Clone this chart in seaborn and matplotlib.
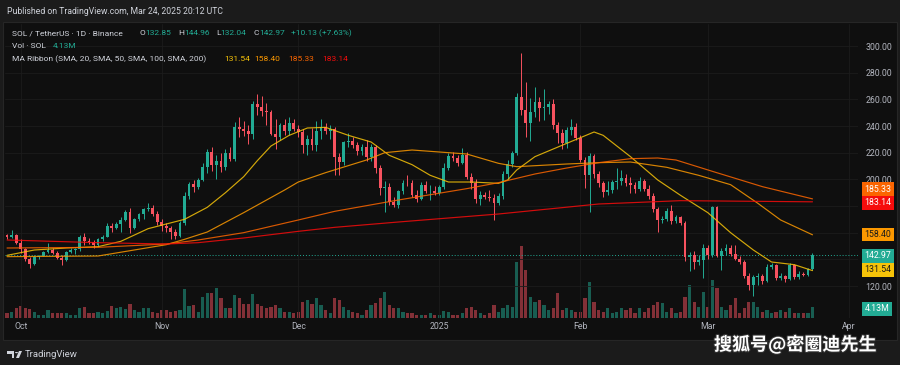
import pandas as pd
import seaborn as sns
import matplotlib.pyplot as plt
import matplotlib.transforms as mtransforms
import matplotlib.patheffects as pe
from matplotlib.patches import Rectangle, Polygon, Circle

# ---- data (SOL/USDT daily, Binance) ----
start = "2024-09-28"

opens = [
    158.0, 156.5, 158.2, 152.5, 147.5, 140.0, 136.5, 141.8, 142.8, 145.2,
    147.2, 145.0, 141.0, 139.5, 145.8, 147.0, 147.5, 156.5, 154.0, 153.2,
    150.5, 155.2, 157.0, 165.0, 163.5, 166.2, 169.8, 175.8, 163.2, 170.2,
    173.8, 177.5, 178.5, 174.0, 168.0, 165.0, 163.5, 160.5, 157.2, 167.0,
    187.5, 196.5, 194.0, 199.2, 209.5, 220.5, 211.0, 213.5, 209.0, 219.5,
    215.5, 239.5, 237.5, 236.0, 234.0, 256.5, 254.0, 251.0, 250.5, 234.0,
    232.0, 240.5, 236.5, 242.0, 238.0, 235.5, 225.5, 230.5, 226.0, 236.5,
    239.0, 236.0, 238.0, 216.5, 213.0, 228.0, 229.0, 225.5, 221.0, 224.5,
    217.0, 224.0, 208.5, 193.5, 194.5, 183.0, 181.0, 191.0, 197.5, 197.0,
    188.0, 185.5, 196.0, 191.0, 191.5, 189.5, 194.5, 208.5, 217.5, 216.0,
    212.5, 218.5, 202.0, 197.5, 185.0, 188.0, 187.0, 186.0, 182.0, 187.5,
    204.0, 211.5, 219.5, 262.0, 252.0, 242.0, 250.5, 258.0, 253.5, 254.0,
    256.5, 240.5, 234.5, 227.5, 237.0, 239.5, 231.0, 214.5, 203.0, 217.5,
    204.0, 197.5, 190.5, 192.0, 198.0, 199.0, 201.0, 197.5, 195.5, 193.0,
    198.5, 193.0, 187.5, 177.5, 169.5, 170.0, 176.5, 168.5, 171.5, 167.0,
    141.5, 143.5, 138.0, 139.5, 148.5, 143.5, 179.0, 142.5, 146.5, 148.5,
    144.0, 140.5, 138.0, 127.5, 120.5, 126.5, 127.5, 124.0, 134.5, 135.5,
    126.0, 127.5, 125.5, 135.5, 126.5, 129.0, 128.5, 132.85,
]
highs = [
    159.0, 162.0, 159.0, 155.0, 148.5, 141.8, 143.0, 143.5, 146.0, 152.5,
    148.5, 146.5, 143.5, 146.5, 148.5, 148.2, 158.0, 159.5, 156.0, 154.5,
    156.0, 158.5, 167.0, 167.5, 167.8, 171.5, 177.0, 178.5, 171.0, 174.5,
    178.5, 182.0, 180.5, 176.5, 170.5, 167.5, 165.0, 163.0, 168.5, 190.5,
    198.0, 199.5, 201.0, 212.5, 223.0, 224.0, 218.0, 220.0, 222.5, 224.0,
    243.0, 247.0, 244.0, 241.0, 259.0, 264.0, 262.5, 257.0, 252.0, 245.0,
    242.5, 245.0, 246.5, 245.5, 241.0, 237.5, 233.5, 238.5, 244.0, 245.0,
    242.5, 240.5, 239.5, 220.0, 229.0, 234.5, 232.0, 228.0, 226.5, 229.5,
    226.5, 226.0, 210.5, 199.0, 197.5, 187.0, 192.0, 199.5, 203.0, 199.5,
    192.0, 198.0, 198.5, 195.5, 195.0, 195.5, 212.0, 219.5, 220.5, 218.0,
    223.5, 220.5, 204.5, 200.0, 191.5, 190.5, 192.0, 189.0, 190.0, 206.0,
    214.5, 221.5, 265.0, 295.0, 273.0, 261.0, 269.5, 262.0, 268.0, 258.5,
    260.5, 243.0, 237.5, 239.0, 245.0, 242.5, 233.0, 216.5, 219.5, 219.0,
    206.5, 199.0, 199.0, 199.5, 208.5, 207.0, 204.0, 201.5, 198.0, 201.5,
    200.0, 195.5, 189.5, 179.5, 172.5, 178.5, 181.0, 173.0, 172.5, 168.5,
    145.5, 146.5, 143.0, 151.5, 150.5, 180.0, 180.0, 148.5, 151.5, 150.5,
    151.0, 142.5, 139.5, 130.0, 128.5, 129.5, 129.0, 136.5, 137.0, 136.5,
    130.0, 128.5, 137.0, 136.5, 131.0, 130.5, 133.5, 144.96,
]
lows = [
    155.5, 155.8, 151.5, 145.0, 139.0, 133.5, 136.0, 140.5, 142.2, 144.5,
    143.8, 140.2, 135.8, 138.5, 144.8, 144.0, 146.0, 150.5, 151.8, 148.8,
    149.8, 154.0, 156.5, 160.2, 162.5, 160.5, 168.8, 160.0, 162.5, 168.5,
    170.2, 176.0, 172.2, 166.0, 161.5, 160.8, 155.0, 155.5, 156.5, 166.0,
    185.5, 190.5, 193.0, 198.5, 205.0, 206.0, 200.5, 205.5, 207.0, 213.5,
    214.0, 232.0, 232.5, 226.5, 230.0, 248.5, 247.5, 240.5, 233.0, 222.5,
    229.5, 233.0, 233.5, 236.0, 231.5, 219.5, 218.0, 222.0, 221.5, 230.5,
    234.0, 230.5, 203.0, 203.5, 210.5, 224.0, 223.5, 218.5, 218.0, 214.0,
    213.5, 205.0, 188.5, 175.5, 180.5, 179.5, 178.5, 189.0, 195.0, 186.5,
    183.0, 184.5, 189.5, 184.5, 188.0, 188.5, 192.5, 207.0, 213.5, 210.0,
    211.5, 200.0, 192.5, 182.5, 180.5, 185.0, 184.0, 169.5, 180.5, 185.5,
    200.5, 209.5, 218.5, 248.0, 232.0, 229.0, 246.5, 244.0, 244.5, 249.0,
    238.0, 227.0, 223.0, 223.5, 233.5, 229.5, 213.0, 193.5, 175.5, 201.0,
    194.0, 187.0, 188.5, 190.0, 192.5, 195.5, 195.0, 190.0, 189.5, 191.0,
    191.5, 185.0, 175.5, 160.5, 167.0, 168.5, 166.5, 167.5, 165.5, 138.5,
    131.0, 132.5, 135.5, 126.0, 140.5, 142.0, 141.5, 132.0, 143.5, 142.5,
    139.5, 136.5, 126.0, 117.0, 112.5, 120.5, 121.5, 123.0, 132.5, 124.5,
    124.5, 123.0, 124.5, 125.0, 125.5, 127.5, 127.5, 132.04,
]
closes = [
    156.5, 158.2, 152.5, 147.5, 140.0, 136.5, 141.8, 142.8, 145.2, 147.2,
    145.0, 141.0, 139.5, 145.8, 147.0, 147.5, 156.5, 154.0, 153.2, 150.5,
    155.2, 157.0, 165.0, 163.5, 166.2, 169.8, 175.8, 163.2, 170.2, 173.8,
    177.5, 178.5, 174.0, 168.0, 165.0, 163.5, 160.5, 157.2, 167.0, 187.5,
    196.5, 194.0, 199.2, 209.5, 220.5, 211.0, 213.5, 209.0, 219.5, 215.5,
    239.5, 237.5, 236.0, 234.0, 256.5, 254.0, 251.0, 250.5, 234.0, 232.0,
    240.5, 236.5, 242.0, 238.0, 235.5, 225.5, 230.5, 226.0, 236.5, 239.0,
    236.0, 238.0, 216.5, 213.0, 228.0, 229.0, 225.5, 221.0, 224.5, 217.0,
    224.0, 208.5, 193.5, 194.5, 183.0, 181.0, 191.0, 197.5, 197.0, 188.0,
    185.5, 196.0, 191.0, 191.5, 189.5, 194.5, 208.5, 217.5, 216.0, 212.5,
    218.5, 202.0, 197.5, 185.0, 188.0, 187.0, 186.0, 182.0, 187.5, 204.0,
    211.5, 219.5, 262.0, 252.0, 242.0, 250.5, 258.0, 253.5, 254.0, 256.5,
    240.5, 234.5, 227.5, 237.0, 239.5, 231.0, 214.5, 203.0, 217.5, 204.0,
    197.5, 190.5, 192.0, 198.0, 199.0, 201.0, 197.5, 195.5, 193.0, 198.5,
    193.0, 187.5, 177.5, 169.5, 170.0, 176.5, 168.5, 171.5, 167.0, 141.5,
    143.5, 138.0, 139.5, 148.5, 143.5, 179.0, 142.5, 146.5, 148.5, 144.0,
    140.5, 138.0, 127.5, 120.5, 126.5, 127.5, 124.0, 134.5, 135.5, 126.0,
    127.5, 125.5, 135.5, 126.5, 129.0, 128.5, 132.85, 142.97,
]
# volume in millions of SOL
volumes = [
    1.8, 2.4, 3.6, 4.5, 3.6, 3.3, 2.4, 1.1, 1.1, 3.0,
    1.8, 1.8, 1.8, 1.8, 1.1, 1.1, 3.6, 4.0, 1.8, 1.8,
    2.4, 1.8, 2.8, 4.5, 3.6, 4.0, 3.3, 5.3, 3.0, 2.4,
    3.6, 3.6, 2.4, 2.0, 3.0, 3.0, 2.4, 2.8, 3.0, 10.8,
    4.5, 4.9, 2.4, 8.0, 9.3, 9.3, 11.1, 7.4, 3.6, 3.6,
    8.6, 7.4, 5.2, 5.2, 8.9, 5.2, 4.5, 3.6, 4.3, 4.9,
    3.6, 2.4, 2.4, 1.8, 2.4, 5.8, 6.8, 5.2, 7.4, 4.9,
    3.0, 1.8, 7.4, 6.8, 4.3, 3.0, 2.4, 1.8, 1.1, 3.0,
    4.9, 5.5, 7.4, 9.9, 4.9, 3.6, 3.6, 2.4, 1.8, 1.8,
    1.1, 1.1, 1.0, 1.8, 1.1, 1.1, 2.8, 2.4, 1.1, 1.1,
    1.8, 3.6, 4.3, 3.0, 1.8, 1.1, 1.8, 4.9, 2.4, 3.6,
    4.9, 4.3, 21.1, 26.8, 18.0, 8.0, 6.1, 6.8, 4.9, 3.0,
    3.6, 9.3, 3.0, 3.6, 3.0, 2.4, 2.4, 7.4, 13.6, 6.1,
    3.0, 2.4, 3.6, 1.8, 2.4, 3.6, 3.0, 3.6, 1.8, 3.6,
    2.4, 3.6, 4.9, 6.1, 5.5, 2.4, 3.6, 1.8, 2.4, 8.0,
    12.4, 6.1, 4.3, 9.9, 4.3, 14.3, 11.1, 4.3, 3.0, 4.9,
    7.4, 1.8, 3.6, 6.1, 6.1, 4.3, 2.4, 3.0, 1.8, 2.4,
    3.0, 2.4, 3.6, 1.8, 1.8, 1.8, 1.8, 4.13,
]

# moving average ribbon, read at points along each line
ma20_dates = ["2024-09-28", "2024-10-04", "2024-10-11", "2024-10-18", "2024-10-23",
              "2024-10-29", "2024-11-06", "2024-11-11", "2024-11-15", "2024-11-19",
              "2024-11-22", "2024-11-25", "2024-11-29", "2024-12-03", "2024-12-07",
              "2024-12-12", "2024-12-17", "2024-12-21", "2024-12-26", "2024-12-30",
              "2025-01-03", "2025-01-08", "2025-01-14", "2025-01-16", "2025-01-18",
              "2025-01-22", "2025-01-29", "2025-02-04", "2025-02-06", "2025-02-12",
              "2025-02-18", "2025-02-23", "2025-03-01", "2025-03-06", "2025-03-11",
              "2025-03-15", "2025-03-20", "2025-03-24"]
ma20 = [143, 147, 148.5, 149.5, 153.5, 163, 170, 179, 190, 202,
        214, 225, 233, 238.5, 239, 233, 228, 218, 211, 203,
        198, 198, 197, 199.5, 207, 217, 227, 235.5, 233, 217,
        199.5, 188, 175, 160, 147, 138, 136, 131.54]

ma50_dates = ["2024-09-28", "2024-10-18", "2024-11-02", "2024-11-06", "2024-11-11",
              "2024-11-19", "2024-11-28", "2024-12-01", "2024-12-07", "2024-12-16",
              "2024-12-20", "2024-12-26", "2025-01-01", "2025-01-07", "2025-01-14",
              "2025-01-18", "2025-01-29", "2025-02-05", "2025-02-12", "2025-02-20",
              "2025-02-27", "2025-03-06", "2025-03-12", "2025-03-17", "2025-03-24"]
ma50 = [142, 142.5, 151, 155, 160.5, 175, 192, 198, 205, 214.5,
        220, 222, 220.5, 219, 212, 209.5, 211.5, 212.5, 213, 209,
        203, 196, 182, 169.5, 158.40]

ma100_dates = ["2024-09-28", "2024-10-18", "2024-11-02", "2024-11-09", "2024-11-19",
               "2024-12-01", "2024-12-09", "2024-12-23", "2025-01-07", "2025-01-14",
               "2025-01-22", "2025-01-29", "2025-02-05", "2025-02-12", "2025-02-18",
               "2025-02-22", "2025-03-02", "2025-03-13", "2025-03-24"]
ma100 = [148.5, 149, 151.5, 154.5, 160, 169.5, 176, 184.5, 193, 197.5,
         204, 208.5, 212.5, 215.5, 216, 214.5, 206, 194.5, 185.33]

ma200_dates = ["2024-09-28", "2024-10-18", "2024-11-02", "2024-11-09", "2024-11-19",
               "2024-12-01", "2024-12-09", "2024-12-23", "2025-01-14", "2025-02-05",
               "2025-02-23", "2025-03-24"]
ma200 = [154.5, 152.5, 151.5, 152.5, 156, 161, 164, 168, 174, 181.5, 184, 183.14]

month_ticks = ["2024-10-01", "2024-11-01", "2024-12-01", "2025-01-01",
               "2025-02-01", "2025-03-01", "2025-04-01"]
month_labels = ["Oct", "Nov", "Dec", "2025", "Feb", "Mar", "Apr"]
price_ticks = [120, 140, 160, 180, 200, 220, 240, 260, 280, 300]
hidden_ticks = [140, 160, 180]  # covered by the price badges in the original

# ---- style ----
sns.set_theme(style="dark")
plt.rcParams["font.family"] = ["Roboto", "DejaVu Sans"]

BG = "#0f0f0f"
PANEL = "#1b1b1b"
TXT = "#d1d4dc"
AX_TXT = "#b2b5be"
UP = "#22ab94"
DOWN = "#f7525f"
MA_COL = {"SMA20": "#f6c309", "SMA50": "#fb9800", "SMA100": "#fb6500", "SMA200": "#f60c0c"}

W, H = 900, 365


def px(x, y):
    return x / W, 1 - y / H


df = pd.DataFrame({
    "date": pd.date_range(start, periods=len(closes), freq="D"),
    "open": opens, "high": highs, "low": lows, "close": closes, "volume": volumes,
})
colors = [UP if c >= o else DOWN for o, c in zip(df["open"], df["close"])]

ma_df = pd.concat([
    pd.DataFrame({"date": pd.to_datetime(ma20_dates), "value": ma20, "ma": "SMA20"}),
    pd.DataFrame({"date": pd.to_datetime(ma50_dates), "value": ma50, "ma": "SMA50"}),
    pd.DataFrame({"date": pd.to_datetime(ma100_dates), "value": ma100, "ma": "SMA100"}),
    pd.DataFrame({"date": pd.to_datetime(ma200_dates), "value": ma200, "ma": "SMA200"}),
])

fig = plt.figure(figsize=(9, 3.65), dpi=100, facecolor=PANEL)
x0, y0 = px(3, 340)
fig.patches.append(Rectangle((x0, y0), 894 / W, 318 / H, transform=fig.transFigure,
                             fc=BG, ec="#262626", lw=0.8, zorder=-5))

left, bottom = px(5, 318)
ax = fig.add_axes([left, bottom, 853 / W, 294 / H])
axv = ax.twinx()
ax.set_zorder(axv.get_zorder() + 1)
ax.patch.set_visible(False)
axv.set_facecolor(BG)

# volume overlay
axv.bar(df["date"], df["volume"], width=0.7, color=colors, alpha=0.5, linewidth=0)
axv.set_ylim(0, 110)
axv.set_yticks([])
axv.grid(False)

# grid
for v in price_ticks:
    ax.axhline(v, color="#1c1c1c", lw=0.6, zorder=0)
for d in month_ticks:
    ax.axvline(pd.Timestamp(d), color="#1c1c1c", lw=0.6, zorder=0)

# candles
body_lo = df[["open", "close"]].min(axis=1)
body_h = (df["close"] - df["open"]).abs().clip(lower=0.35)
ax.vlines(df["date"], df["low"], df["high"], colors=colors, lw=0.7, zorder=2)
ax.bar(df["date"], body_h, bottom=body_lo, width=0.62, color=colors, linewidth=0, zorder=3)

# MA ribbon
sns.lineplot(data=ma_df, x="date", y="value", hue="ma", palette=MA_COL, estimator=None,
             lw=0.85, alpha=0.85, legend=False, ax=ax, zorder=4)

# last price line
ax.axhline(closes[-1], color=UP, lw=0.7, ls=(0, (1, 2)), zorder=1)

ax.set_xlim(pd.Timestamp(start) - pd.Timedelta(days=0.45), pd.Timestamp(start) + pd.Timedelta(days=187))
ax.set_ylim(96, 316.5)
ax.set_xlabel("")
ax.set_ylabel("")
ax.yaxis.tick_right()
ax.set_yticks(price_ticks)
ax.set_yticklabels(["" if v in hidden_ticks else f"{v:.2f}" for v in price_ticks])
ax.tick_params(axis="y", length=0, pad=5.5, labelsize=6.3, labelcolor=AX_TXT)
ax.set_xticks(pd.to_datetime(month_ticks))
ax.set_xticklabels(month_labels)
ax.tick_params(axis="x", length=0, pad=3, labelsize=6.3, labelcolor=AX_TXT)
ax.grid(False)
for a in (ax, axv):
    for s in a.spines.values():
        s.set_visible(False)

# price scale badges
trans = mtransforms.blended_transform_factory(ax.transAxes, ax.transData)
badges = [
    (192.75, "185.33", MA_COL["SMA100"], "#ffffff"),
    (182.5, "183.14", MA_COL["SMA200"], "#ffffff"),
    (158.6, "158.40", MA_COL["SMA50"], "#1a1a1a"),
    (142.5, "142.97", UP, "#ffffff"),
    (132.3, "131.54", MA_COL["SMA20"], "#1a1a1a"),
    (102.8, "4.13M", UP, "#ffffff"),
]
for yv, label, fc, tc in badges:
    ax.text(1.0075, yv, label, transform=trans, ha="left", va="center", fontsize=6.3,
            color=tc, clip_on=False, zorder=10,
            bbox=dict(boxstyle="square,pad=0.28", fc=fc, ec="none"))

# header
fig.text(*px(7, 12), "Published on TradingView.com, Mar 24, 2025 20:12 UTC",
         color=TXT, fontsize=6.2, va="center")
row1 = [(12, "SOL / TetherUS · 1D · Binance", TXT), (140, "O", TXT), (145.5, "132.85", UP),
        (178.5, "H", TXT), (184.5, "144.96", UP), (216, "L", TXT), (220.5, "132.04", UP),
        (253.5, "C", TXT), (259, "142.97", UP), (291, "+10.13 (+7.63%)", UP)]
for xp, t, c in row1:
    fig.text(*px(xp, 33), t, color=c, fontsize=6.0, va="center")
fig.text(*px(12, 46), "Vol · SOL", color=TXT, fontsize=6.0, va="center")
fig.text(*px(53, 46), "4.13M", color=UP, fontsize=6.0, va="center")
row3 = [(12, "MA Ribbon (SMA, 20, SMA, 50, SMA, 100, SMA, 200)", TXT),
        (224, "131.54", MA_COL["SMA20"]), (254, "158.40", MA_COL["SMA50"]),
        (288, "185.33", MA_COL["SMA100"]), (322, "183.14", MA_COL["SMA200"])]
for xp, t, c in row3:
    fig.text(*px(xp, 59), t, color=c, fontsize=6.0, va="center")

# footer logo
lx, ly = 7, 351
fig.patches.append(Polygon([px(lx, ly), px(lx + 7, ly), px(lx + 7, ly + 7), px(lx + 4.5, ly + 7),
                            px(lx + 4.5, ly + 3), px(lx, ly + 3)], closed=True,
                           transform=fig.transFigure, fc=TXT, ec="none"))
fig.patches.append(Circle(px(lx + 9.5, ly + 1.6), 1.5 / W, transform=fig.transFigure, fc=TXT, ec="none"))
fig.patches.append(Polygon([px(lx + 12, ly), px(lx + 15, ly), px(lx + 12, ly + 7), px(lx + 9, ly + 7)],
                           closed=True, transform=fig.transFigure, fc=TXT, ec="none"))
fig.text(*px(25, 354.5), "TradingView", color=TXT, fontsize=6.8, va="center")

# watermark
fig.text(*px(795, 345), "搜狐号@密圈迪先生", color="white", fontsize=13, fontweight="bold",
         ha="center", va="center", family=["Noto Sans CJK SC", "DejaVu Sans"],
         path_effects=[pe.withStroke(linewidth=1.5, foreground="#333333")])

fig.savefig("out.png", dpi=100, facecolor=fig.get_facecolor())
